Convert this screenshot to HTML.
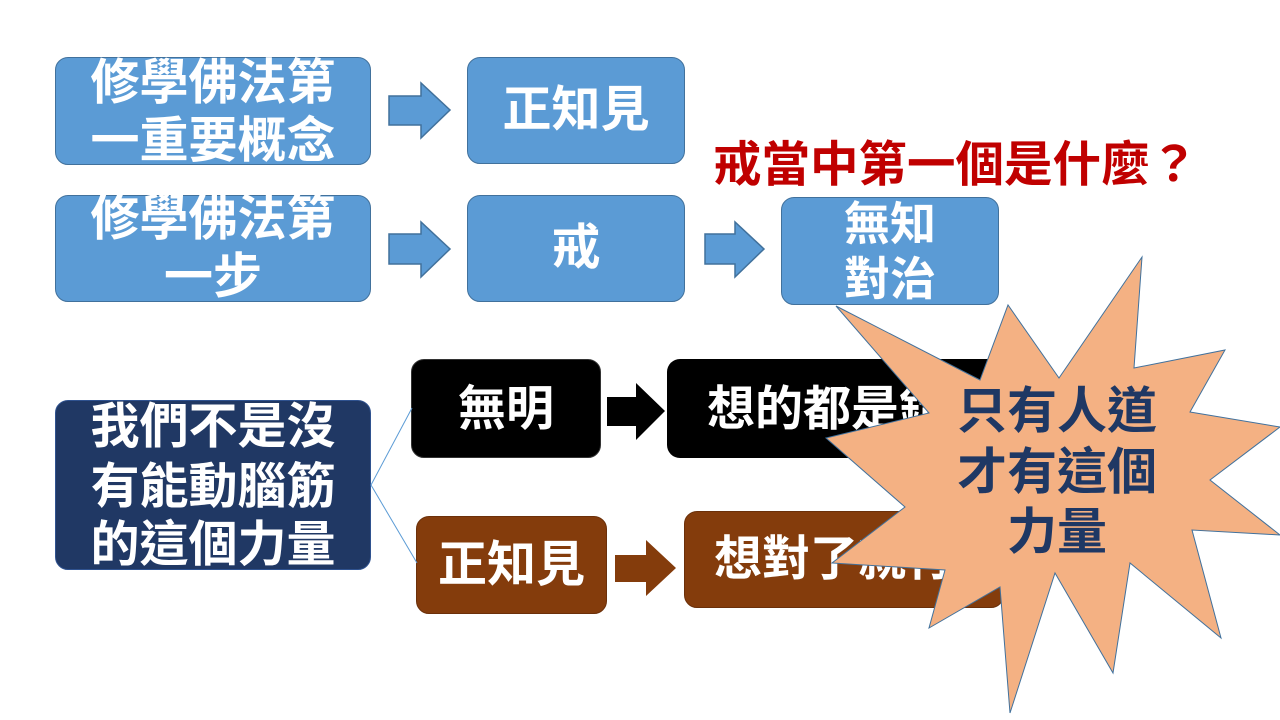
<!DOCTYPE html>
<html><head><meta charset="utf-8"><style>
html,body{margin:0;padding:0;background:#fff;width:1280px;height:720px;overflow:hidden;position:relative;font-family:"Liberation Sans","Noto Sans CJK TC",sans-serif;}
.b{position:absolute;border-radius:13px;box-sizing:border-box;}
.blue{background:#5b9bd5;border:1.5px solid #41719c;}
.t{position:absolute;color:#fff;font-weight:bold;text-align:center;white-space:nowrap;line-height:1;}
svg{position:absolute;left:0;top:0;}
</style></head><body>
<div class="b blue" style="left:55px;top:57px;width:316px;height:108px"></div>
<div class="t" style="left:55px;width:316px;top:59px;font-size:49px">修學佛法第</div>
<div class="t" style="left:55px;width:316px;top:117px;font-size:49px">一重要概念</div>
<div class="b blue" style="left:467px;top:57px;width:218px;height:107px"></div>
<div class="t" style="left:467px;width:218px;top:86px;font-size:49px">正知見</div>

<div class="b blue" style="left:55px;top:195px;width:316px;height:107px"></div>
<div class="t" style="left:55px;width:316px;top:195px;font-size:49px">修學佛法第</div>
<div class="t" style="left:55px;width:316px;top:253px;font-size:49px">一步</div>
<div class="b blue" style="left:467px;top:195px;width:218px;height:107px"></div>
<div class="t" style="left:467px;width:218px;top:224px;font-size:49px">戒</div>
<div class="b blue" style="left:781px;top:197px;width:218px;height:108px"></div>
<div class="t" style="left:781px;width:218px;top:201px;font-size:46px">無知</div>
<div class="t" style="left:781px;width:218px;top:256px;font-size:46px">對治</div>

<div class="t" style="left:713px;top:141px;font-size:48.5px;color:#c00000">戒當中第一個是什麼？</div>

<div class="b" style="left:55px;top:400px;width:316px;height:170px;background:#203864;border:1.5px solid #2f528f"></div>
<div class="t" style="left:55px;width:316px;top:403px;font-size:49px">我們不是沒</div>
<div class="t" style="left:55px;width:316px;top:463px;font-size:49px">有能動腦筋</div>
<div class="t" style="left:55px;width:316px;top:521px;font-size:49px">的這個力量</div>

<div class="b" style="left:411px;top:359px;width:190px;height:99px;background:#000;border:1px solid #333"></div>
<div class="t" style="left:411px;width:190px;top:386px;font-size:48px">無明</div>
<div class="b" style="left:667px;top:359px;width:340px;height:99px;background:#000"></div>
<div class="t" style="left:707px;top:386px;font-size:48px">想的都是錯</div>

<div class="b" style="left:416px;top:516px;width:191px;height:98px;background:#843c0c;border:1px solid #6b300a"></div>
<div class="t" style="left:416px;width:191px;top:541px;font-size:49px">正知見</div>
<div class="b" style="left:684px;top:511px;width:320px;height:97px;background:#843c0c;border:1px solid #6b300a"></div>
<div class="t" style="left:714px;top:536px;font-size:48px">想對了就行</div>

<svg width="1280" height="720">
<g stroke="#41719c" stroke-width="1.5" fill="#5b9bd5">
<polygon points="389,96 421,96 421,83 450,110 421,138 421,125 389,125"/>
<polygon points="389,234 421,234 421,222 450,249 421,277 421,264 389,264"/>
<polygon points="705,234 735,234 735,222 764,249 735,277 735,264 705,264"/>
</g>
<polygon points="607,397 636,397 636,383 665,411 636,440 636,426 607,426" fill="#000"/>
<polygon points="615,555 646,555 646,540 676,568 646,596 646,582 615,582" fill="#843c0c"/>
<line x1="371" y1="485" x2="412" y2="408" stroke="#5b9bd5" stroke-width="1"/>
<line x1="371" y1="485" x2="417" y2="563" stroke="#5b9bd5" stroke-width="1"/>
<polygon fill="#f4b183" stroke="#41719c" stroke-width="1" points="836,306 980,380 1008,305 1059,378 1142,257 1134,368 1225,350 1190,412 1280,427 1210,480 1280,535 1192,530 1221,638 1130,563 1113,673 1055,573 1010,713 1000,587 929,628 945,570 832,563 905,507 826,438 929,413"/>
<g font-family="Liberation Sans, Noto Sans CJK TC, sans-serif" font-weight="bold" font-size="50" fill="#1f3864" text-anchor="middle">
<text x="1057" y="428">只有人道</text>
<text x="1057" y="489">才有這個</text>
<text x="1057" y="549">力量</text>
</g>
</svg>
</body></html>
